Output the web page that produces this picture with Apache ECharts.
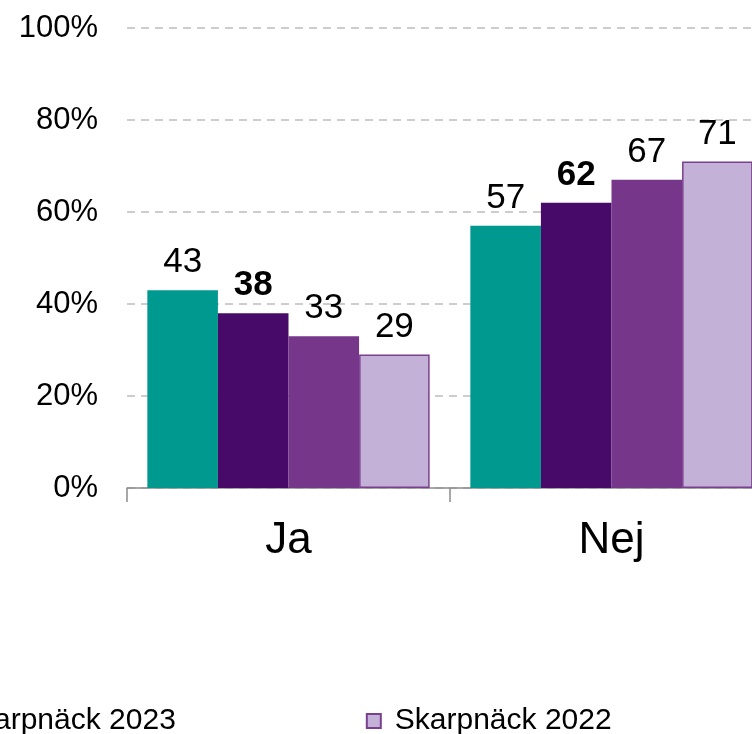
<!DOCTYPE html>
<html>
<head>
<meta charset="utf-8">
<script src="https://cdn.jsdelivr.net/npm/echarts@6/dist/echarts.min.js"></script>
<style>
  html, body { margin: 0; padding: 0; background: #fff; }
  #chart { width: 752px; height: 734px; }
</style>
</head>
<body>
<div id="chart"></div>
<script>
var categories = ['Ja', 'Nej'];
var seriesNames = ['Stockholm 2024', 'Skarpnäck 2024', 'Skarpnäck 2023', 'Skarpnäck 2022'];
var stockholm2024 = [43, 57];
var skarpnack2024 = [38, 62];
var skarpnack2023 = [33, 67];
var skarpnack2022 = [29, 71];
var yTicks = [0, 20, 40, 60, 80, 100];

var font = '"Liberation Sans", Arial, sans-serif';
var colors = ['#009990', '#470a68', '#76378b', '#c4b1d8'];

var chart = echarts.init(document.getElementById('chart'));

function makeSeries(name, data, color, bold, border) {
    return {
        name: name,
        type: 'bar',
        data: data,
        barGap: 0,
        barCategoryGap: '12.6%',
        itemStyle: {
            color: color,
            borderColor: border || color,
            borderWidth: border ? 1.5 : 0
        },
        label: {
            show: true,
            position: 'top',
            distance: 10,
            color: '#000',
            fontFamily: font,
            fontSize: 35,
            fontWeight: bold ? 'bold' : 'normal'
        }
    };
}

chart.setOption({
    animation: false,
    // the picture is a crop: the plot runs past the right edge
    grid: { left: 127, top: 28, width: 646, height: 460, containLabel: false, outerBoundsMode: 'none' },
    legend: {
        data: [seriesNames[2], seriesNames[3]],
        left: -69,
        top: 706,
        padding: 0,
        itemWidth: 14,
        itemHeight: 14,
        itemGap: 190,
        icon: 'rect',
        textStyle: { fontFamily: font, fontSize: 30, color: '#000', padding: [0, 0, 0, 9] }
    },
    xAxis: {
        type: 'category',
        data: categories,
        axisLine: { lineStyle: { color: '#8c8c8c', width: 1.5 } },
        axisTick: { show: true, length: 14, lineStyle: { color: '#8c8c8c', width: 1.5 } },
        axisLabel: { margin: 31, color: '#000', fontFamily: font, fontSize: 44 }
    },
    yAxis: {
        type: 'value',
        min: yTicks[0],
        max: yTicks[yTicks.length - 1],
        interval: 20,
        axisLine: { show: false },
        axisTick: { show: false },
        axisLabel: {
            margin: 29,
            color: '#000',
            fontFamily: font,
            fontSize: 31,
            formatter: function (v) { return v + '%'; }
        },
        splitLine: { lineStyle: { color: '#bdbdbd', type: [8, 6], width: 1.5 } }
    },
    series: [
        makeSeries(seriesNames[0], stockholm2024, colors[0], false),
        makeSeries(seriesNames[1], skarpnack2024, colors[1], true),
        makeSeries(seriesNames[2], skarpnack2023, colors[2], false),
        makeSeries(seriesNames[3], skarpnack2022, colors[3], false, '#7b3f90')
    ]
});
</script>
</body>
</html>
